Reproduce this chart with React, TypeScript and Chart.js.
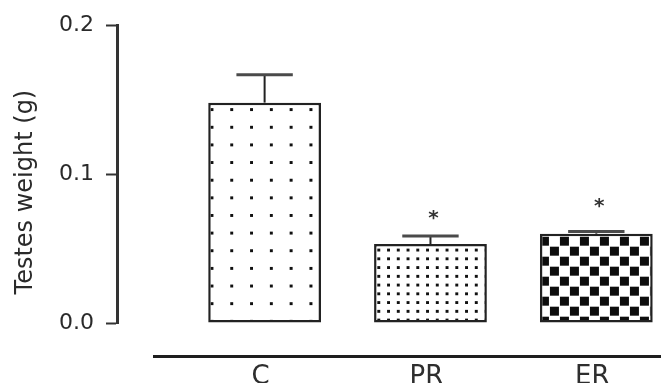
import React, { useEffect, useRef } from 'react';
import { Chart, registerables } from 'chart.js';

Chart.register(...registerables);

// ---- data ----
const categories = ['C', 'PR', 'ER'];
const means = [0.148, 0.053, 0.06];
const sem = [0.0187, 0.0055, 0.0015];
const sigMarks = ['', '*', '*'];
const sigLevels = [null, 0.0727, 0.0807];
const yTicks = [0, 0.1, 0.2];
const yTitle = 'Testes weight (g)';

const FONT = 'DejaVu Sans';

function dotPattern(ctx: CanvasRenderingContext2D, w: number, h: number, dot: number) {
  const c = document.createElement('canvas');
  c.width = w;
  c.height = h;
  const g = c.getContext('2d')!;
  g.fillStyle = '#ffffff';
  g.fillRect(0, 0, w, h);
  g.fillStyle = '#111111';
  g.fillRect(0, 0, dot, dot);
  return ctx.createPattern(c, 'repeat')!;
}

function checkPattern(ctx: CanvasRenderingContext2D) {
  const c = document.createElement('canvas');
  c.width = 20;
  c.height = 20;
  const g = c.getContext('2d')!;
  g.fillStyle = '#ffffff';
  g.fillRect(0, 0, 20, 20);
  g.fillStyle = '#0d0d0d';
  g.fillRect(0, 0, 9, 9);
  g.fillRect(10, 10, 9, 9);
  return ctx.createPattern(c, 'repeat')!;
}

export default function App() {
  const ref = useRef<HTMLCanvasElement>(null);

  useEffect(() => {
    const canvas = ref.current!;
    const ctx = canvas.getContext('2d')!;
    const patterns = [dotPattern(ctx, 20, 18, 3), dotPattern(ctx, 10, 9, 3), checkPattern(ctx)];
    const patternCfg = [
      { ox: 2.2, oy: 5.5, sx: 19.8 / 20, sy: 17.64 / 18 },
      { ox: 3.2, oy: 4.5, sx: 9.75 / 10, sy: 8.75 / 9 },
      { ox: 0, oy: 3, sx: 1, sy: 1 },
    ];

    const decor = {
      id: 'decor',
      beforeDatasetsDraw(chart: any) {
        const meta = chart.getDatasetMeta(0);
        meta.data.forEach((bar: any, i: number) => {
          const { x, y, width } = bar.getProps(['x', 'y', 'width'], true);
          const c = patternCfg[i];
          const m = new DOMMatrix().translate(x - width / 2 + c.ox, y + c.oy).scale(c.sx, c.sy);
          patterns[i].setTransform(m);
        });
      },
      afterDatasetsDraw(chart: any) {
        const g = chart.ctx as CanvasRenderingContext2D;
        const yScale = chart.scales.y;
        const area = chart.chartArea;
        const meta = chart.getDatasetMeta(0);
        g.save();
        meta.data.forEach((bar: any, i: number) => {
          const { x, y, width } = bar.getProps(['x', 'y', 'width'], true);
          const yTop = yScale.getPixelForValue(means[i] + sem[i]);
          g.strokeStyle = '#222';
          g.lineWidth = 2;
          g.beginPath();
          g.moveTo(x, y);
          g.lineTo(x, yTop);
          g.stroke();
          g.strokeStyle = '#4a4a4a';
          g.lineWidth = 3;
          g.beginPath();
          g.moveTo(x - width / 4, yTop);
          g.lineTo(x + width / 4, yTop);
          g.stroke();
          const lvl = sigLevels[i];
          if (sigMarks[i] && lvl != null) {
            g.fillStyle = '#333';
            g.font = `bold 20px "${FONT}"`;
            g.textAlign = 'center';
            g.textBaseline = 'middle';
            g.fillText(sigMarks[i], x + 3, yScale.getPixelForValue(lvl) + 4);
          }
        });
        // baseline under the groups
        g.strokeStyle = '#1e1e1e';
        g.lineWidth = 3;
        g.beginPath();
        g.moveTo(area.left + 36, area.bottom + 33.5);
        g.lineTo(chart.width, area.bottom + 33.5);
        g.stroke();
        // y title
        g.fillStyle = '#2a2a2a';
        g.font = `24px "${FONT}"`;
        g.textAlign = 'center';
        g.textBaseline = 'middle';
        g.translate(25.5, (area.top + area.bottom) / 2 + 18);
        g.rotate(-Math.PI / 2);
        g.fillText(yTitle, 0, 0);
        g.restore();
      },
    };

    const chart = new Chart(canvas, {
      type: 'bar',
      data: {
        datasets: [
          {
            data: means.map((v, i) => ({ x: i, y: v })),
            backgroundColor: patterns as any,
            borderColor: '#222222',
            borderWidth: 2.5,
            borderSkipped: false,
            barPercentage: 0.85,
            categoryPercentage: 0.8,
          },
        ],
      },
      options: {
        responsive: false,
        animation: false,
        layout: { padding: { top: 23, right: 0, bottom: 0, left: 0 } },
        plugins: { legend: { display: false }, tooltip: { enabled: false } },
        scales: {
          x: {
            type: 'linear',
            offset: false,
            min: -0.89,
            max: 2.39,
            grid: { display: false, drawTicks: false, offset: false },
            border: { display: false },
            afterBuildTicks: (s: any) => {
              s.ticks = categories.map((_, i) => ({ value: i }));
            },
            afterFit: (s: any) => {
              s.height = 60;
            },
            ticks: {
              callback: (v: any) => categories[v] ?? '',
              font: { family: FONT, size: 26 },
              color: '#2e2e2e',
              padding: 39,
              labelOffset: -4,
              maxRotation: 0,
              autoSkip: false,
            },
          },
          y: {
            min: 0,
            max: 0.2,
            afterBuildTicks: (s: any) => {
              s.ticks = yTicks.map((v) => ({ value: v }));
            },
            afterFit: (s: any) => {
              s.width = 117;
            },
            ticks: {
              callback: (v: any) => Number(v).toFixed(1),
              font: { family: FONT, size: 22 },
              color: '#2a2a2a',
              padding: 12,
            },
            grid: { drawOnChartArea: false, drawTicks: true, tickLength: 11, tickWidth: 2, tickColor: '#333' },
            border: { display: true, width: 3, color: '#333' },
          },
        },
      },
      plugins: [decor],
    } as any);

    return () => chart.destroy();
  }, []);

  return (
    <div style={{ position: 'absolute', left: 0, top: 0, width: 661, height: 383, background: '#fff' }}>
      <canvas ref={ref} width={661} height={383} />
    </div>
  );
}
